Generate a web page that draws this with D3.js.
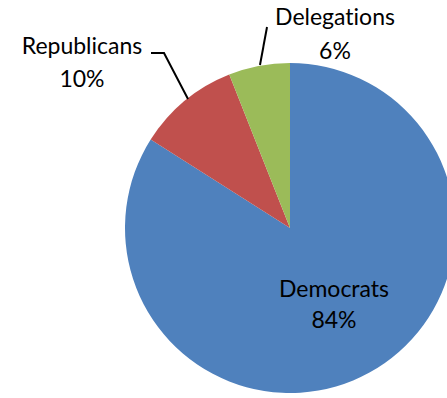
<!DOCTYPE html>
<html>
<head>
<meta charset="utf-8">
<script src="https://cdn.jsdelivr.net/npm/d3@7"></script>
<style>
  html, body { margin: 0; padding: 0; background: #fff; }
  svg { display: block; }
  text { font-family: Lato, "Open Sans", sans-serif; fill: #000; font-variant-ligatures: none; font-feature-settings: "liga" 0, "dlig" 0; }
</style>
</head>
<body>
<svg id="chart" width="447" height="398"></svg>
<script>
// Share of sponsors by group
const categories = ["Democrats", "Republicans", "Delegations"];
const shares = [84, 10, 6];
const colors = ["#4F81BD", "#C0504D", "#9BBB59"];

const width = 447, height = 398;
const cx = 290, cy = 228, radius = 165;

const svg = d3.select("#chart");
const g = svg.append("g").attr("transform", `translate(${cx},${cy})`);

const pie = d3.pie().sort(null).value(d => d.value);
const arcs = pie(categories.map((c, i) => ({ name: c, value: shares[i], color: colors[i] })));
const arc = d3.arc().innerRadius(0).outerRadius(radius);

g.selectAll("path.slice")
  .data(arcs)
  .join("path")
  .attr("class", "slice")
  .attr("d", arc)
  .attr("fill", d => d.data.color);

// Label placement (relative to pie centre) and leader lines
const labelPos = {
  Democrats:   { x: 44,   y: 69,   gap: 31, leader: null },
  Republicans: { x: -208, y: -174, gap: 33, leader: [[-139, -175], [-126, -175], [-102, -129]] },
  Delegations: { x: 45,   y: -203, gap: 34, leader: [[-23, -201], [-30, -163]] }
};

const fontSize = 23;
arcs.forEach(d => {
  const p = labelPos[d.data.name];
  const t = g.append("text")
    .attr("text-anchor", "middle")
    .attr("font-size", fontSize);
  t.append("tspan").attr("x", p.x).attr("y", p.y).text(d.data.name);
  t.append("tspan").attr("x", p.x).attr("y", p.y + p.gap).text(d.data.value + "%");
  if (p.leader) {
    g.append("path")
      .attr("d", d3.line()(p.leader))
      .attr("fill", "none")
      .attr("stroke", "#000")
      .attr("stroke-width", 2);
  }
});
</script>
</body>
</html>
